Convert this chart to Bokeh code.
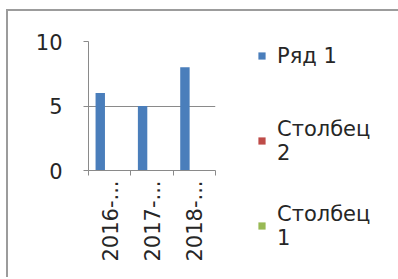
import math
from bokeh.plotting import figure
from bokeh.models import (ColumnDataSource, Range1d, FixedTicker, Legend, LegendItem)
from bokeh.transform import dodge
from bokeh.embed import file_html
from bokeh.resources import INLINE

# ---- data ----
categories = ["2016-...", "2017-...", "2018-..."]
series_labels = ["Ряд 1", "Столбец\n2", "Столбец\n1"]
ryad_1 = [6, 5, 8]
stolbets_2 = [None, None, None]
stolbets_1 = [None, None, None]
y_ticks = [0, 5, 10]
colors = ["#4A7EBB", "#BE4B48", "#98B954"]

FONT = "DejaVu Sans"
TXT = "#262626"
AX = "#8A8A8A"

n = len(categories)
centers = [i + 0.5 for i in range(n)]
source = ColumnDataSource(dict(xc=centers, cat=categories,
                               s0=ryad_1, s1=stolbets_2, s2=stolbets_1))

p = figure(x_range=Range1d(0, n), y_range=Range1d(0, 10),
           frame_width=127, frame_height=129,
           min_border_left=80, min_border_right=60,
           min_border_top=30, min_border_bottom=107,
           output_backend="svg", toolbar_location=None,
           background_fill_color="white", border_fill_color="white",
           outline_line_color=None,
           styles={"margin-left": "6px", "margin-top": "9px",
                   "border-left": "2px solid #9C9C9C", "border-top": "2px solid #9C9C9C",
                   "border-right": "1px solid #E4E4E4"})

bw = 1 / 4.5
renderers = []
for i, col in enumerate(["s0", "s1", "s2"]):
    r = p.vbar(x=dodge("xc", (i - 1) * bw), top=col, bottom=0,
               width=bw, source=source, fill_color=colors[i], line_color=None)
    renderers.append(r)

# y axis
ya = p.yaxis[0]
ya.ticker = FixedTicker(ticks=y_ticks)
ya.major_tick_out = 5
ya.major_tick_in = 0
ya.minor_tick_line_color = None
ya.axis_line_color = AX
ya.major_tick_line_color = AX
ya.major_label_standoff = 21
ya.major_label_text_font = FONT
ya.major_label_text_font_size = "21px"
ya.major_label_text_color = TXT

# x axis: labels at category centres, ticks at category boundaries
xa = p.xaxis[0]
xa.ticker = FixedTicker(ticks=centers, minor_ticks=list(range(n + 1)))
xa.major_label_overrides = {c: lab for c, lab in zip(centers, categories)}
xa.major_tick_out = 0
xa.major_tick_in = 0
xa.minor_tick_out = 5
xa.minor_tick_in = 0
xa.minor_tick_line_color = AX
xa.axis_line_color = AX
xa.major_label_orientation = math.pi / 2
xa.major_label_standoff = 5
xa.major_label_text_font = FONT
xa.major_label_text_font_size = "21px"
xa.major_label_text_color = TXT

p.xgrid.visible = False
p.ygrid.ticker = FixedTicker(ticks=y_ticks[1:])
p.ygrid.grid_line_color = AX

# legend
legend = Legend(items=[LegendItem(label=lab, renderers=[r])
                       for lab, r in zip(series_labels, renderers)],
                location=(42, -88), border_line_color=None, background_fill_alpha=0,
                padding=0, margin=0, spacing=20, glyph_width=9, glyph_height=9,
                label_standoff=11, label_height=65,
                label_text_font=FONT, label_text_font_size="21px",
                label_text_color=TXT, label_text_line_height=1.55)
p.add_layout(legend, "right")

open("out.html", "w").write(file_html(p, INLINE))
